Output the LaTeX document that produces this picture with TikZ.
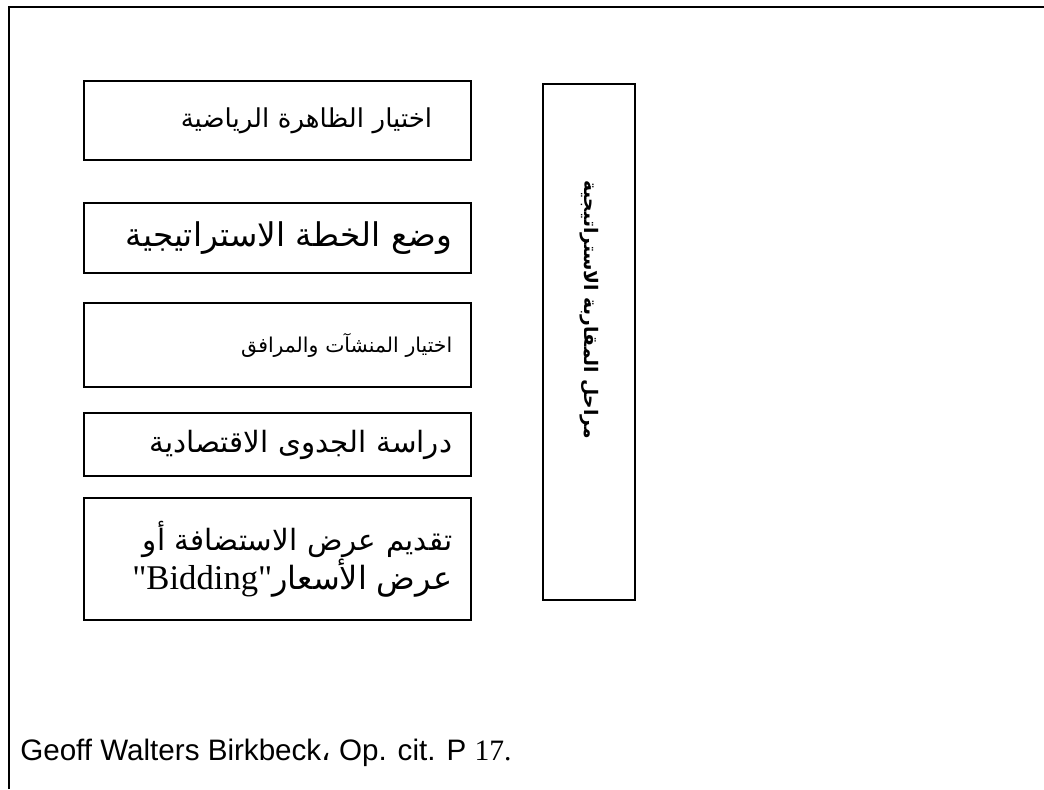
\documentclass[tikz,border=0pt]{standalone}
\usepackage{fontspec}
\setmainfont{Liberation Sans}
\newfontfamily\arabicfont[Script=Arabic]{DejaVu Sans}
\newfontfamily\timesfont{Liberation Serif}
\TeXXeTstate=1
\usetikzlibrary{
    positioning
}

\tikzset{
    stage/.style={draw, line width=1.1pt, text width=262pt, inner xsep=14pt, align=right},
    phase/.style={draw, line width=2.2pt, rotate=-90, text width=243pt, inner xsep=72pt, minimum height=69pt, align=left}
}

\begin{document}
\begin{tikzpicture}[x=0.75pt, y=-0.75pt]
    \useasboundingbox (0,0) rectangle (1044,789);
    % frame
    \draw[line width=1.6pt] (9,789) -- (9,7) -- (1044,7);
    % stages
    \node[stage, text width=232pt, inner xsep=29pt, minimum height=59pt, font=\arabicfont\fontsize{19.5}{23}\selectfont] (choice) at (277.5,120.5) {\beginR اختيار الظاهرة الرياضية\endR};
    \node[stage, minimum height=52.5pt, font=\arabicfont\fontsize{24.5}{29}\selectfont] (plan) at (277.5,238) {\beginR وضع الخطة الاستراتيجية\endR};
    \node[stage, minimum height=63pt, font=\arabicfont\fontsize{15.3}{18}\selectfont] (venues) at (277.5,345) {\beginR اختيار المنشآت والمرافق\endR};
    \node[stage, minimum height=47.25pt, font=\arabicfont\fontsize{22}{26}\selectfont] (feasibility) at (277.5,444.5) {\beginR دراسة الجدوى الاقتصادية\endR};
    \node[stage, minimum height=91.5pt, font=\arabicfont\fontsize{22}{26}\selectfont] (bid) at (277.5,559) {\beginR تقديم عرض الاستضافة أو\endR\\{\fontsize{24}{26}\selectfont\beginR عرض الأسعار\beginL{\timesfont\fontsize{26}{26}\selectfont"Bidding"}\endL\endR}};
    % phases
    \node[phase, font=\arabicfont\bfseries\fontsize{14}{17}\selectfont] (phases) at (589,342) {\beginR مراحل المقاربة الاستراتيجية\endR};
    % source
    \node[anchor=base west, inner sep=0pt, font=\fontsize{22.2}{26}\selectfont] (source) at (20,760) {Geoff Walters Birkbeck{\arabicfont ،} Op. cit. P {\timesfont 17.}};
\end{tikzpicture}
\end{document}
